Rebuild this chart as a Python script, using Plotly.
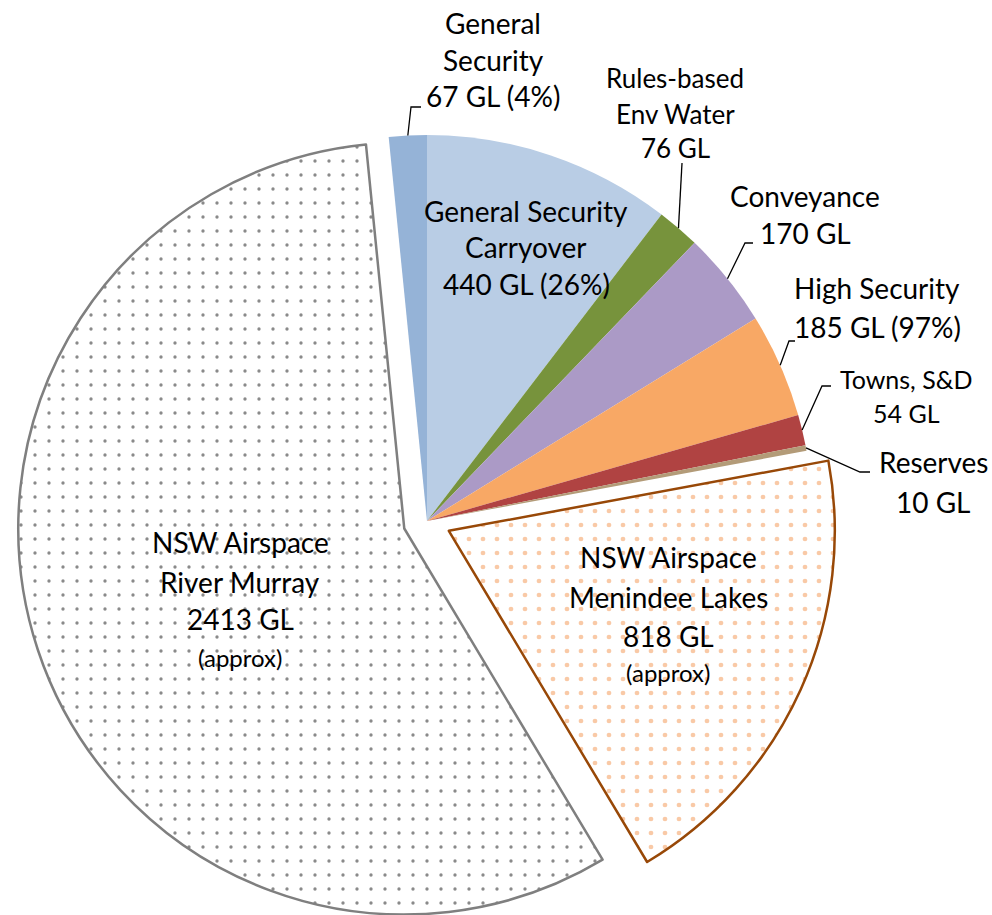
import math
import plotly.graph_objects as go

# ---------------- data ----------------
slice_names = [
    "General Security Carryover",
    "Rules-based Env Water",
    "Conveyance",
    "High Security",
    "Towns, S&D",
    "Reserves",
    "NSW Airspace Menindee Lakes",
    "NSW Airspace River Murray",
    "General Security",
]
slice_values_gl = [440, 76, 170, 185, 54, 10, 818, 2413, 67]

label_general_security = ["General", "Security", "67 GL (4%)"]
label_rules_env = ["Rules-based", "Env Water", "76 GL"]
label_conveyance = ["Conveyance", "170 GL"]
label_high_security = ["High Security", "185 GL (97%)"]
label_towns = ["Towns, S&D", "54 GL"]
label_reserves = ["Reserves", "10 GL"]
label_carryover = ["General Security", "Carryover", "440 GL (26%)"]
label_murray = ["NSW Airspace", "River Murray", "2413 GL", "(approx)"]
label_menindee = ["NSW Airspace", "Menindee Lakes", "818 GL", "(approx)"]

# ---------------- styles ----------------
slice_colors = ["#B9CDE5", "#77933C", "#AB9AC6", "#F8A865", "#B04342",
                "#B39B78", "#FFFFFF", "#FFFFFF", "#95B3D7"]
slice_pull = [0, 0, 0, 0, 0, 0, 0.062, 0.062, 0]
line_colors = ["rgba(0,0,0,0)"] * 6 + ["#984807", "#7F7F7F", "rgba(0,0,0,0)"]
line_widths = [0, 0, 0, 0, 0, 0, 2.5, 2.5, 0]
pattern_shapes = ["", "", "", "", "", "", ".", ".", ""]
pattern_fg = ["#000"] * 6 + ["#F9C9A6", "#8A8A8A", "#000"]
pattern_solidity = [0.1] * 6 + [0.09, 0.045, 0.1]

W, H = 992, 932
CX, CY, R = 427.0, 521.0, 386.0       # pie centre / radius in pixels
maxpull = max(slice_pull)
half_box = R * (1 + maxpull)

FONT = "Lato"
fig = go.Figure()
fig.add_trace(go.Pie(
    labels=slice_names,
    values=slice_values_gl,
    sort=False,
    direction="clockwise",
    rotation=0,
    pull=slice_pull,
    textinfo="none",
    hoverinfo="skip",
    showlegend=False,
    marker=dict(
        colors=slice_colors,
        line=dict(color=line_colors, width=line_widths),
        pattern=dict(shape=pattern_shapes, fgcolor=pattern_fg, bgcolor="#FFFFFF",
                     size=14, solidity=pattern_solidity, fillmode="replace"),
    ),
    domain=dict(
        x=[(CX - half_box) / W, (CX + half_box) / W],
        y=[max(0.0, 1 - (CY + half_box) / H), 1 - (CY - half_box) / H],
    ),
))


def px(x):
    return x / W


def py(y):
    return 1 - y / H


annotations = []


def add_label(lines, x, ys, sizes):
    for t, y, s in zip(lines, ys, sizes):
        annotations.append(dict(
            text=t, x=px(x), y=py(y), xref="paper", yref="paper",
            xanchor="center", yanchor="middle", showarrow=False,
            font=dict(family=FONT, size=s, color="#000000"),
        ))


add_label(label_general_security, 493, [23, 60, 96], [28, 28, 28])
add_label(label_rules_env, 675, [78, 114, 148], [26, 26, 26])
add_label(label_conveyance, 805, [196, 233], [28, 28])
add_label(label_high_security, 877, [288, 327], [28, 28])
add_label(label_towns, 906, [379, 413], [25, 25])
add_label(label_reserves, 933, [462, 502], [28, 28])
add_label(label_carryover, 526, [211, 247, 284], [28, 28, 28])
add_label(label_murray, 240, [542, 582, 619, 657], [28, 28, 28, 24])
add_label(label_menindee, 668, [557, 597, 636, 672], [28, 28, 28, 24])

# ---------------- leader lines (start point derived from slice angles) ----------------
total = sum(slice_values_gl)
starts = []
acc = 0
for v in slice_values_gl:
    starts.append(acc / total * 360.0)
    acc += v


def arc_point(idx, frac=0.5):
    ang = math.radians(starts[idx] + frac * slice_values_gl[idx] / total * 360.0)
    return CX + R * math.sin(ang), CY - R * math.cos(ang)


leaders = [
    (8, 0.5, [(411, 107), (421, 107)]),
    (1, 0.5, [(682, 163)]),
    (2, 0.5, [(745, 243), (753, 243)]),
    (3, 0.5, [(789, 341), (795, 341)]),
    (4, 0.5, [(822, 386), (831, 386)]),
    (5, 0.5, [(860, 472), (870, 472)]),
]
shapes = []
for idx, frac, pts in leaders:
    x0, y0 = arc_point(idx, frac)
    path = f"M {px(x0)} {py(y0)}" + "".join(f" L {px(a)} {py(b)}" for a, b in pts)
    shapes.append(dict(type="path", path=path, xref="paper", yref="paper",
                       line=dict(color="#000000", width=1.3)))

fig.update_layout(
    width=W, height=H,
    margin=dict(l=0, r=0, t=0, b=0, autoexpand=False),
    paper_bgcolor="#FFFFFF",
    plot_bgcolor="#FFFFFF",
    annotations=annotations,
    shapes=shapes,
    showlegend=False,
    hovermode=False,
)

fig.write_html("out.html",
               config={"displayModeBar": False},
               post_script="document.body.style.overflow='hidden';document.body.style.margin='0';")
